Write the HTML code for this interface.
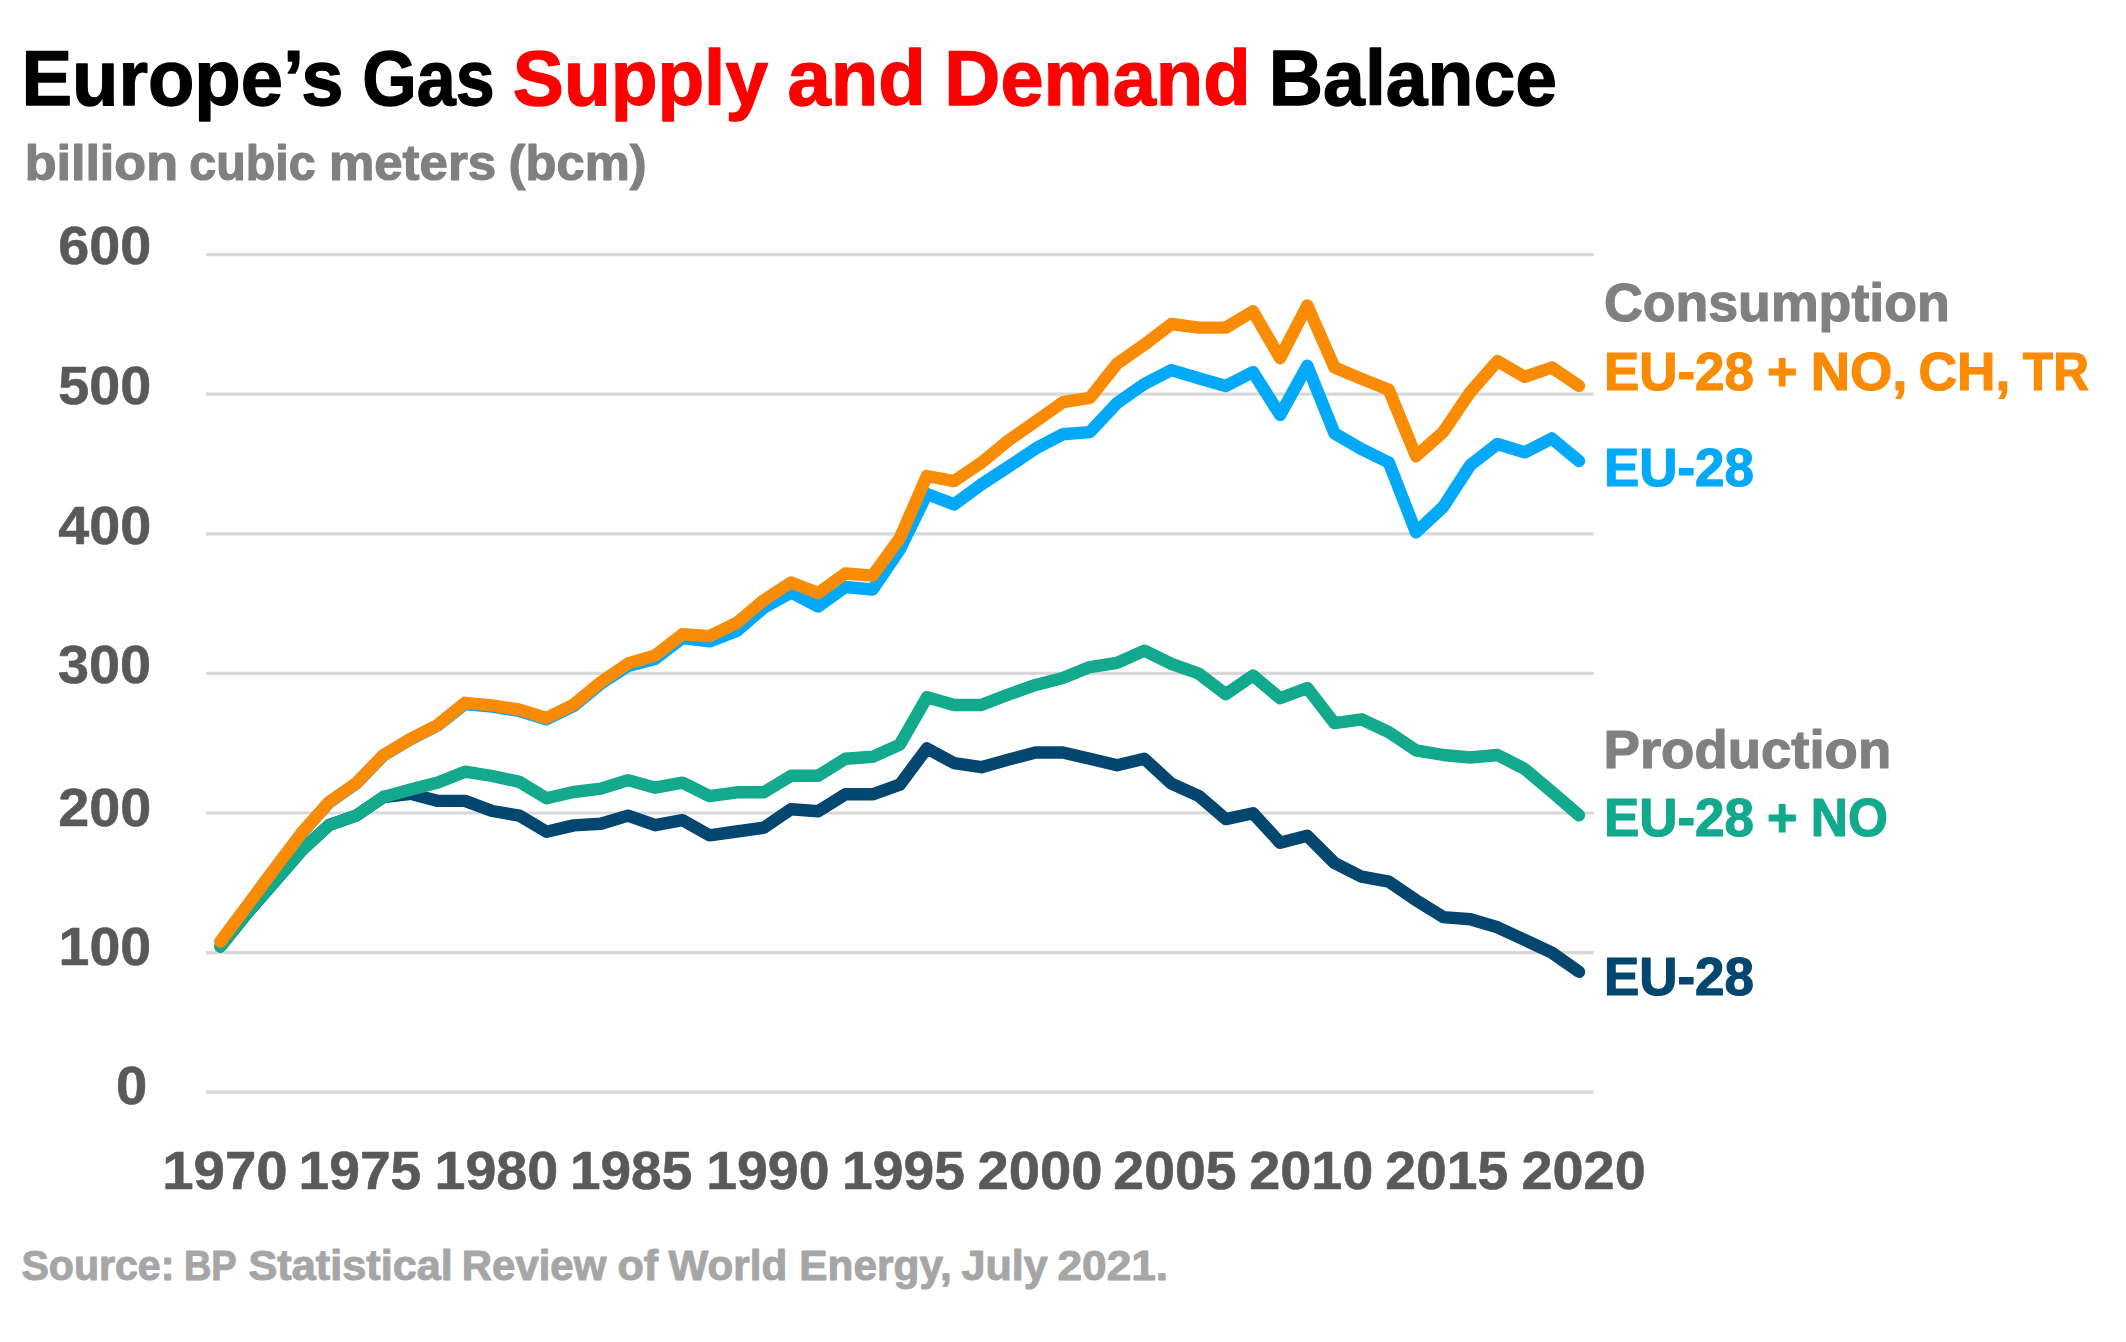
<!DOCTYPE html>
<html><head><meta charset="utf-8"><title>Europe's Gas Supply and Demand Balance</title>
<style>
html,body{margin:0;padding:0;background:#fff;}
body{width:2126px;height:1342px;overflow:hidden;}
svg{display:block;}
text{font-family:"Liberation Sans",sans-serif;font-weight:bold;}
</style></head><body>
<svg width="2126" height="1342" viewBox="0 0 2126 1342">
<rect width="2126" height="1342" fill="#ffffff"/>
<line x1="206" x2="1593.8" y1="254.7" y2="254.7" stroke="#D8D8D8" stroke-width="3.2"/>
<line x1="206" x2="1593.8" y1="394.2" y2="394.2" stroke="#D8D8D8" stroke-width="3.2"/>
<line x1="206" x2="1593.8" y1="533.8" y2="533.8" stroke="#D8D8D8" stroke-width="3.2"/>
<line x1="206" x2="1593.8" y1="673.4" y2="673.4" stroke="#D8D8D8" stroke-width="3.2"/>
<line x1="206" x2="1593.8" y1="813.0" y2="813.0" stroke="#D8D8D8" stroke-width="3.2"/>
<line x1="206" x2="1593.8" y1="952.6" y2="952.6" stroke="#D8D8D8" stroke-width="3.2"/>
<line x1="206" x2="1593.8" y1="1092.1" y2="1092.1" stroke="#D8D8D8" stroke-width="3.2"/>
<polyline points="220.5,946.5 247.7,912.5 274.8,881.5 302.0,850.0 329.2,825.0 356.4,815.5 383.5,797.0 410.7,793.8 437.9,800.9 465.0,800.9 492.2,811.0 519.4,815.6 546.5,831.8 573.7,825.4 600.9,823.8 628.0,815.6 655.2,825.2 682.4,820.1 709.6,835.3 736.7,831.5 763.9,827.7 791.1,809.2 818.2,811.3 845.4,794.3 872.6,794.3 899.8,784.7 926.9,748.4 954.1,763.1 981.3,767.2 1008.4,759.6 1035.6,752.5 1062.8,752.5 1089.9,758.8 1117.1,765.2 1144.3,758.8 1171.5,783.7 1198.6,795.8 1225.8,819.1 1253.0,813.3 1280.1,842.7 1307.3,835.8 1334.5,863.0 1361.6,876.7 1388.8,881.7 1416.0,900.2 1443.2,917.1 1470.3,919.2 1497.5,927.3 1524.7,939.9 1551.8,952.6 1579.0,971.8" fill="none" stroke="#03466F" stroke-width="12.4" stroke-linecap="round" stroke-linejoin="round"/>
<polyline points="220.5,941.9 247.7,905.4 274.8,868.9 302.0,832.9 329.2,802.4 356.4,783.4 383.5,755.4 410.7,739.2 437.9,725.3 465.0,704.0 492.2,706.7 519.4,711.0 546.5,719.3 573.7,705.9 600.9,683.6 628.0,666.0 655.2,658.9 682.4,638.1 709.6,641.4 736.7,631.0 763.9,607.7 791.1,592.5 818.2,606.5 845.4,587.0 872.6,589.5 899.8,549.5 926.9,494.0 954.1,504.4 981.3,484.5 1008.4,466.8 1035.6,448.6 1062.8,434.2 1089.9,432.1 1117.1,403.0 1144.3,384.0 1171.5,370.1 1198.6,378.2 1225.8,386.0 1253.0,372.1 1280.1,414.9 1307.3,365.8 1334.5,433.4 1361.6,449.1 1388.8,462.5 1416.0,532.2 1443.2,506.9 1470.3,465.1 1497.5,444.0 1524.7,452.4 1551.8,438.4 1579.0,461.0" fill="none" stroke="#03A9F9" stroke-width="12.4" stroke-linecap="round" stroke-linejoin="round"/>
<polyline points="220.5,946.5 247.7,912.5 274.8,881.5 302.0,850.0 329.2,825.0 356.4,815.5 383.5,797.0 410.7,789.5 437.9,782.6 465.0,771.7 492.2,776.0 519.4,781.9 546.5,798.3 573.7,792.0 600.9,788.6 628.0,780.1 655.2,787.7 682.4,782.6 709.6,796.1 736.7,792.3 763.9,792.3 791.1,775.8 818.2,775.8 845.4,758.8 872.6,756.8 899.8,744.6 926.9,697.3 954.1,705.0 981.3,705.0 1008.4,694.5 1035.6,684.9 1062.8,678.0 1089.9,667.1 1117.1,662.8 1144.3,650.7 1171.5,663.8 1198.6,673.5 1225.8,694.2 1253.0,675.5 1280.1,698.3 1307.3,688.0 1334.5,723.2 1361.6,719.3 1388.8,732.2 1416.0,750.4 1443.2,755.0 1470.3,757.5 1497.5,755.0 1524.7,768.9 1551.8,791.7 1579.0,815.3" fill="none" stroke="#12A98D" stroke-width="12.4" stroke-linecap="round" stroke-linejoin="round"/>
<polyline points="220.5,941.5 247.7,905.0 274.8,868.5 302.0,832.5 329.2,802.0 356.4,783.0 383.5,755.0 410.7,738.8 437.9,724.9 465.0,702.8 492.2,705.4 519.4,709.7 546.5,718.0 573.7,704.6 600.9,682.0 628.0,663.5 655.2,655.4 682.4,634.3 709.6,636.1 736.7,622.9 763.9,600.1 791.1,582.4 818.2,593.0 845.4,573.5 872.6,575.6 899.8,538.1 926.9,476.0 954.1,481.1 981.3,462.7 1008.4,440.5 1035.6,421.5 1062.8,402.2 1089.9,397.9 1117.1,363.7 1144.3,344.7 1171.5,324.0 1198.6,327.6 1225.8,327.6 1253.0,311.3 1280.1,358.2 1307.3,305.5 1334.5,367.5 1361.6,378.9 1388.8,389.8 1416.0,456.2 1443.2,432.1 1470.3,392.1 1497.5,361.2 1524.7,376.9 1551.8,367.5 1579.0,385.8" fill="none" stroke="#FA8B05" stroke-width="12.4" stroke-linecap="round" stroke-linejoin="round"/>
<text transform="translate(21.40,104.85) scale(0.9762,1)" font-size="77.8" fill="#000" stroke="#000" stroke-width="1.3" stroke-linejoin="round">Europe’s</text>
<text transform="translate(362.28,104.85) scale(0.9000,1)" font-size="77.8" fill="#000" stroke="#000" stroke-width="1.3" stroke-linejoin="round">Gas</text>
<text transform="translate(512.84,104.85) scale(0.9839,1)" font-size="77.8" fill="#FF0000" stroke="#FF0000" stroke-width="1.3" stroke-linejoin="round">Supply</text>
<text transform="translate(787.51,104.85) scale(1.0007,1)" font-size="77.8" fill="#FF0000" stroke="#FF0000" stroke-width="1.3" stroke-linejoin="round">and</text>
<text transform="translate(944.30,104.85) scale(0.9986,1)" font-size="77.8" fill="#FF0000" stroke="#FF0000" stroke-width="1.3" stroke-linejoin="round">Demand</text>
<text transform="translate(1268.84,104.85) scale(0.9658,1)" font-size="77.8" fill="#000" stroke="#000" stroke-width="1.3" stroke-linejoin="round">Balance</text>
<text transform="translate(24.64,180.20) scale(1.0502,1)" font-size="49.6" fill="#808080" stroke="#808080" stroke-width="1.2" stroke-linejoin="round">billion</text>
<text transform="translate(189.35,180.20) scale(0.9742,1)" font-size="49.6" fill="#808080" stroke="#808080" stroke-width="1.2" stroke-linejoin="round">cubic</text>
<text transform="translate(328.90,180.20) scale(1.0285,1)" font-size="49.6" fill="#808080" stroke="#808080" stroke-width="1.2" stroke-linejoin="round">meters</text>
<text transform="translate(508.58,180.20) scale(1.0225,1)" font-size="49.6" fill="#808080" stroke="#808080" stroke-width="1.2" stroke-linejoin="round">(bcm)</text>
<text transform="translate(58.16,264.00) scale(1.0263,1)" font-size="54.3" fill="#595959" stroke="#595959" stroke-width="0.6" stroke-linejoin="round">600</text>
<text transform="translate(58.24,403.80) scale(1.0254,1)" font-size="54.3" fill="#595959" stroke="#595959" stroke-width="0.6" stroke-linejoin="round">500</text>
<text transform="translate(58.27,543.60) scale(1.0250,1)" font-size="54.3" fill="#595959" stroke="#595959" stroke-width="0.6" stroke-linejoin="round">400</text>
<text transform="translate(58.01,683.10) scale(1.0279,1)" font-size="54.3" fill="#595959" stroke="#595959" stroke-width="0.6" stroke-linejoin="round">300</text>
<text transform="translate(58.16,825.50) scale(1.0263,1)" font-size="54.3" fill="#595959" stroke="#595959" stroke-width="0.6" stroke-linejoin="round">200</text>
<text transform="translate(58.60,964.50) scale(1.0213,1)" font-size="54.3" fill="#595959" stroke="#595959" stroke-width="0.6" stroke-linejoin="round">100</text>
<text transform="translate(115.96,1103.90) scale(1.0344,1)" font-size="54.3" fill="#595959" stroke="#595959" stroke-width="0.6" stroke-linejoin="round">0</text>
<text transform="translate(162.25,1189.30) scale(1.0388,1)" font-size="54.3" fill="#595959" stroke="#595959" stroke-width="0.6" stroke-linejoin="round">1970</text>
<text transform="translate(298.52,1189.30) scale(1.0167,1)" font-size="54.3" fill="#595959" stroke="#595959" stroke-width="0.6" stroke-linejoin="round">1975</text>
<text transform="translate(434.49,1189.30) scale(1.0241,1)" font-size="54.3" fill="#595959" stroke="#595959" stroke-width="0.6" stroke-linejoin="round">1980</text>
<text transform="translate(569.93,1189.30) scale(1.0124,1)" font-size="54.3" fill="#595959" stroke="#595959" stroke-width="0.6" stroke-linejoin="round">1985</text>
<text transform="translate(706.20,1189.30) scale(1.0206,1)" font-size="54.3" fill="#595959" stroke="#595959" stroke-width="0.6" stroke-linejoin="round">1990</text>
<text transform="translate(842.12,1189.30) scale(1.0158,1)" font-size="54.3" fill="#595959" stroke="#595959" stroke-width="0.6" stroke-linejoin="round">1995</text>
<text transform="translate(977.44,1189.30) scale(1.0354,1)" font-size="54.3" fill="#595959" stroke="#595959" stroke-width="0.6" stroke-linejoin="round">2000</text>
<text transform="translate(1113.37,1189.30) scale(1.0196,1)" font-size="54.3" fill="#595959" stroke="#595959" stroke-width="0.6" stroke-linejoin="round">2005</text>
<text transform="translate(1249.26,1189.30) scale(1.0277,1)" font-size="54.3" fill="#595959" stroke="#595959" stroke-width="0.6" stroke-linejoin="round">2010</text>
<text transform="translate(1385.17,1189.30) scale(1.0196,1)" font-size="54.3" fill="#595959" stroke="#595959" stroke-width="0.6" stroke-linejoin="round">2015</text>
<text transform="translate(1521.45,1189.30) scale(1.0286,1)" font-size="54.3" fill="#595959" stroke="#595959" stroke-width="0.6" stroke-linejoin="round">2020</text>
<text transform="translate(1603.95,320.50) scale(0.9940,1)" font-size="54.0" fill="#808080" stroke="#808080" stroke-width="1.2" stroke-linejoin="round">Consumption</text>
<text transform="translate(1603.95,389.80) scale(0.9802,1)" font-size="54.0" fill="#FA8B05" stroke="#FA8B05" stroke-width="1.2" stroke-linejoin="round">EU-28</text>
<text transform="translate(1767.00,389.80) scale(0.9624,1)" font-size="54.0" fill="#FA8B05" stroke="#FA8B05" stroke-width="1.2" stroke-linejoin="round">+</text>
<text transform="translate(1810.67,389.80) scale(1.0086,1)" font-size="54.0" fill="#FA8B05" stroke="#FA8B05" stroke-width="1.2" stroke-linejoin="round">NO,</text>
<text transform="translate(1918.56,389.80) scale(0.9863,1)" font-size="54.0" fill="#FA8B05" stroke="#FA8B05" stroke-width="1.2" stroke-linejoin="round">CH,</text>
<text transform="translate(2022.86,389.80) scale(0.9188,1)" font-size="54.0" fill="#FA8B05" stroke="#FA8B05" stroke-width="1.2" stroke-linejoin="round">TR</text>
<text transform="translate(1603.95,486.30) scale(0.9802,1)" font-size="54.0" fill="#03A9F9" stroke="#03A9F9" stroke-width="1.2" stroke-linejoin="round">EU-28</text>
<text transform="translate(1603.56,768.00) scale(1.0093,1)" font-size="54.0" fill="#808080" stroke="#808080" stroke-width="1.2" stroke-linejoin="round">Production</text>
<text transform="translate(1603.95,836.30) scale(0.9802,1)" font-size="54.0" fill="#12A98D" stroke="#12A98D" stroke-width="1.2" stroke-linejoin="round">EU-28</text>
<text transform="translate(1767.00,836.30) scale(0.9624,1)" font-size="54.0" fill="#12A98D" stroke="#12A98D" stroke-width="1.2" stroke-linejoin="round">+</text>
<text transform="translate(1810.83,836.30) scale(0.9513,1)" font-size="54.0" fill="#12A98D" stroke="#12A98D" stroke-width="1.2" stroke-linejoin="round">NO</text>
<text transform="translate(1603.95,995.00) scale(0.9802,1)" font-size="54.0" fill="#03466F" stroke="#03466F" stroke-width="1.2" stroke-linejoin="round">EU-28</text>
<text transform="translate(21.46,1280.30) scale(0.9877,1)" font-size="41.6" fill="#A6A6A6" stroke="#A6A6A6" stroke-width="1.0" stroke-linejoin="round">Source:</text>
<text transform="translate(183.89,1280.30) scale(0.9128,1)" font-size="41.6" fill="#A6A6A6" stroke="#A6A6A6" stroke-width="1.0" stroke-linejoin="round">BP</text>
<text transform="translate(248.52,1280.30) scale(1.0398,1)" font-size="41.6" fill="#A6A6A6" stroke="#A6A6A6" stroke-width="1.0" stroke-linejoin="round">Statistical</text>
<text transform="translate(461.78,1280.30) scale(1.0083,1)" font-size="41.6" fill="#A6A6A6" stroke="#A6A6A6" stroke-width="1.0" stroke-linejoin="round">Review</text>
<text transform="translate(617.39,1280.30) scale(1.0376,1)" font-size="41.6" fill="#A6A6A6" stroke="#A6A6A6" stroke-width="1.0" stroke-linejoin="round">of</text>
<text transform="translate(668.61,1280.30) scale(1.0130,1)" font-size="41.6" fill="#A6A6A6" stroke="#A6A6A6" stroke-width="1.0" stroke-linejoin="round">World</text>
<text transform="translate(799.35,1280.30) scale(1.0191,1)" font-size="41.6" fill="#A6A6A6" stroke="#A6A6A6" stroke-width="1.0" stroke-linejoin="round">Energy,</text>
<text transform="translate(961.47,1280.30) scale(1.0376,1)" font-size="41.6" fill="#A6A6A6" stroke="#A6A6A6" stroke-width="1.0" stroke-linejoin="round">July</text>
<text transform="translate(1057.48,1280.30) scale(1.0631,1)" font-size="41.6" fill="#A6A6A6" stroke="#A6A6A6" stroke-width="1.0" stroke-linejoin="round">2021.</text>
</svg>
</body></html>
